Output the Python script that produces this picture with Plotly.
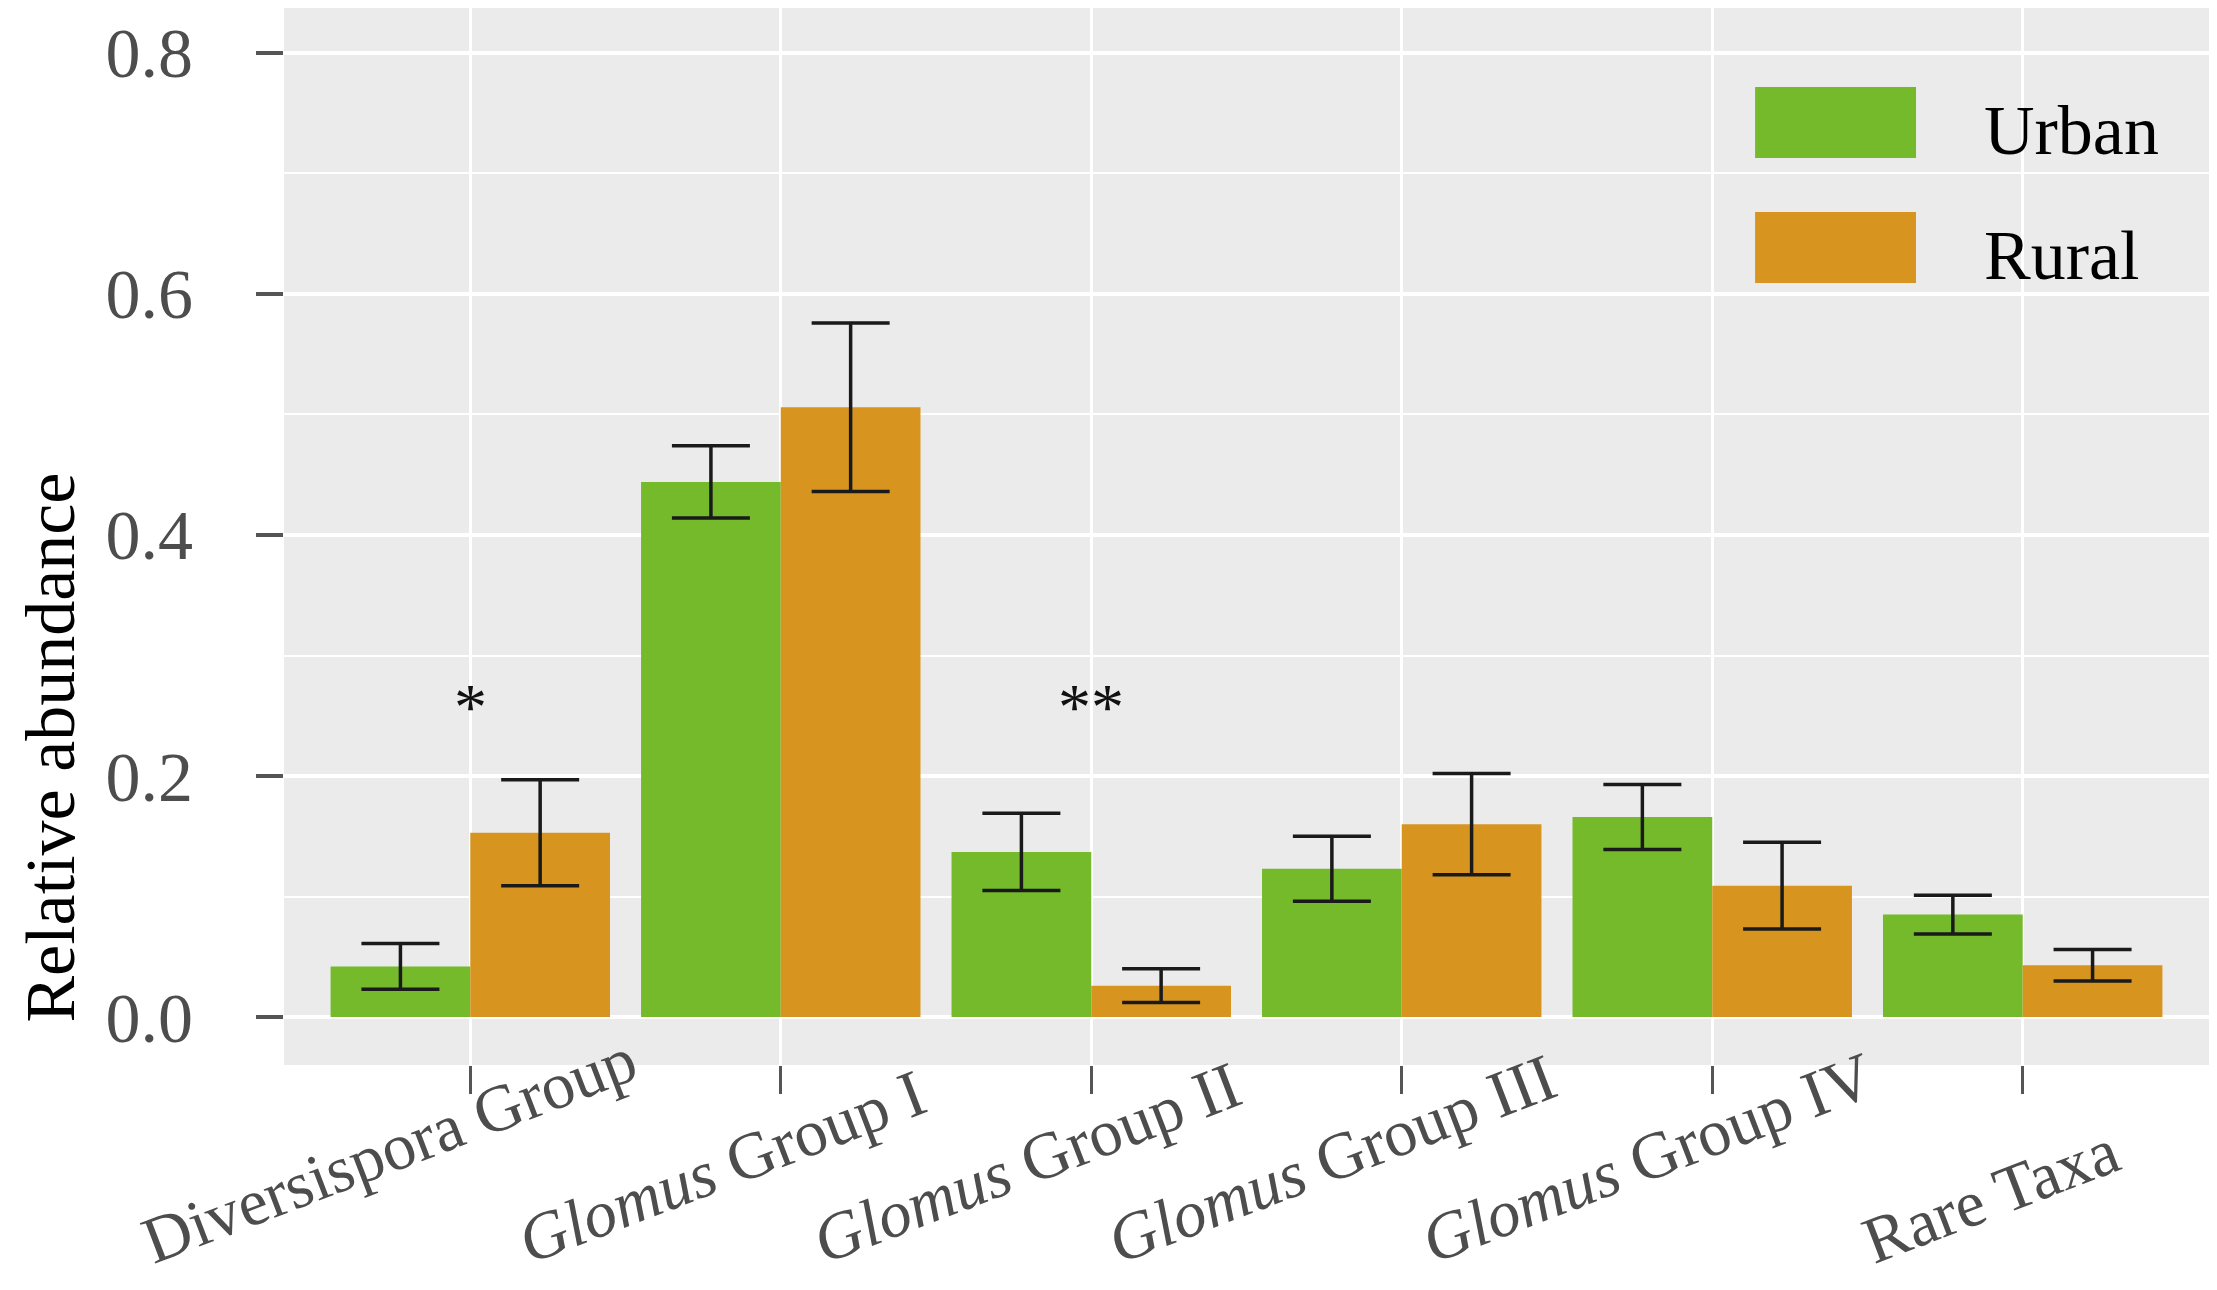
import plotly.graph_objects as go

# AMF groups, Urban vs Rural relative abundance (mean +/- SE)
categories = ["Diversispora Group", "Glomus Group I", "Glomus Group II",
              "Glomus Group III", "Glomus Group IV", "Rare Taxa"]
tick_labels = ["Diversispora Group", "<i>Glomus</i> Group I", "<i>Glomus</i> Group II",
               "<i>Glomus</i> Group III", "<i>Glomus</i> Group IV", "Rare Taxa"]

urban = [0.042, 0.444, 0.137, 0.123, 0.166, 0.085]
urban_err = [0.019, 0.030, 0.032, 0.027, 0.027, 0.016]
rural = [0.153, 0.506, 0.026, 0.160, 0.109, 0.043]
rural_err = [0.044, 0.070, 0.014, 0.042, 0.036, 0.013]

signif = ["*", "", "**", "", "", ""]

GREEN = "#74BA2B"
ORANGE = "#D7951F"
FONT = "Liberation Serif"

fig = go.Figure()
for name, vals, errs, col in [("Urban", urban, urban_err, GREEN),
                              ("Rural", rural, rural_err, ORANGE)]:
  fig.add_trace(go.Bar(
    x=categories, y=vals, name=name, marker=dict(color=col, line=dict(width=0)),
    error_y=dict(type="data", array=errs, color="#1a1a1a", thickness=3.5, width=39),
    showlegend=False,
  ))

# significance stars
for cat, s in zip(categories, signif):
  if s:
    fig.add_annotation(x=cat, y=0.258, xref="x", yref="y", text=s, showarrow=False,
                       font=dict(family=FONT, size=66, color="#111111"))

# rotated category labels; longer labels hang further left (ggplot hjust look)
for cat, lab in zip(categories, tick_labels):
  shift = -62 - 5.4 * (len(cat) - 14.5)
  fig.add_annotation(x=cat, y=-0.203, xref="x", yref="paper", text=lab, showarrow=False,
                     textangle=-21, xanchor="center", yanchor="bottom", xshift=shift,
                     font=dict(family=FONT, size=66, color="#4D4D4D"))

# y-axis title
fig.add_annotation(x=-0.1212, y=0.30, xref="paper", yref="paper", text="Relative abundance",
                   textangle=-90, showarrow=False, xanchor="center", yanchor="middle",
                   font=dict(family=FONT, size=70, color="#000000"))

# legend drawn inside the panel, ggplot-like big keys
legend_items = [("Urban", GREEN, 0.8581, 0.9253), ("Rural", ORANGE, 0.7398, 0.8070)]
for lab, col, y0, y1 in legend_items:
  fig.add_shape(type="rect", xref="paper", yref="paper", x0=0.7642, x1=0.8478, y0=y0, y1=y1,
                fillcolor=col, line=dict(width=0), layer="above")
  fig.add_annotation(x=0.8821, y=(y0 + y1) / 2 - 0.008, xref="paper", yref="paper", text=lab,
                     showarrow=False, xanchor="left", yanchor="middle",
                     font=dict(family=FONT, size=70, color="#000000"))

# page body has an 8px margin, so the figure is sized to sit inside it
fig.update_layout(
  width=2201, height=1274,
  margin=dict(l=276, r=0, t=0, b=217),
  paper_bgcolor="white", plot_bgcolor="#EBEBEB",
  barmode="group", bargap=0.1, bargroupgap=0,
  font=dict(family=FONT),
)
fig.update_xaxes(
  range=[-0.6, 5.6], showticklabels=False, showgrid=True, gridcolor="white", gridwidth=3,
  ticks="outside", ticklen=28, tickwidth=3, tickcolor="#555555", zeroline=False, showline=False,
)
fig.update_yaxes(
  range=[-0.0398, 0.8373], tick0=0, dtick=0.2, tickformat=".1f",
  showgrid=True, gridcolor="white", gridwidth=3.5, zeroline=False, showline=False,
  ticks="outside", ticklen=27, tickwidth=3.5, tickcolor="#555555", ticklabelstandoff=49,
  tickfont=dict(family=FONT, size=70, color="#4D4D4D"),
  minor=dict(dtick=0.1, tick0=0, showgrid=True, gridcolor="white", gridwidth=2, ticks=""),
)

fig.write_html("out.html")
